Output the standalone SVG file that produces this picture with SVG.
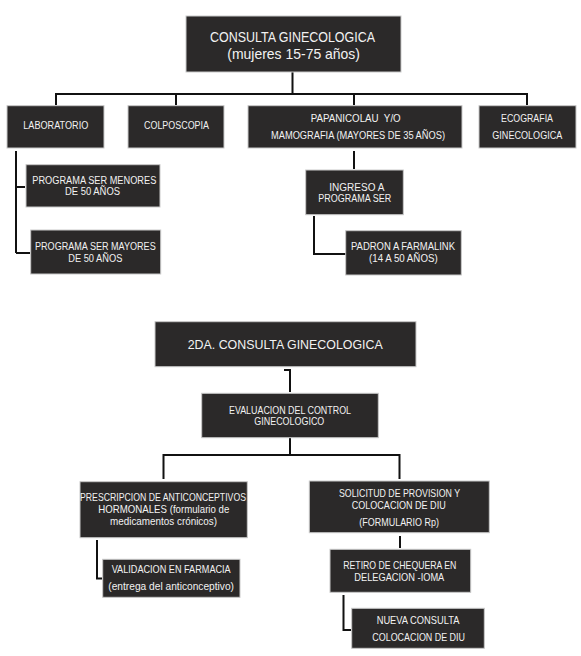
<svg xmlns="http://www.w3.org/2000/svg" width="581" height="656" viewBox="0 0 581 656">
<style>
.box{fill:#2b2929;stroke:#c9c9c9;stroke-width:1}
text{font-family:"Liberation Sans",Arial,sans-serif;fill:#f2f2f2;font-size:10px}
.big{font-size:15px}
.mid{font-size:13.5px}
.sm2{font-size:10.5px}
.ln{fill:none;stroke:#111;stroke-width:2}
</style>
<rect width="581" height="656" fill="#ffffff"/>
<g id="connectors">
<path class="ln" d="M292.5,72 V94 M56,94 H527 M56,93 V105 M176,93 V105 M354,93 V105 M527,93 V105"/>
<path class="ln" d="M16,151 V253 M16,187 H25 M16,253 H30"/>
<path class="ln" d="M354,151 V169"/>
<path class="ln" d="M314,216 V254 H346"/>
<path class="ln" d="M284,370 H290 V392"/>
<path class="ln" d="M290,438 V455 M163.5,455 H399.5 M163.5,454 V479 M399.5,454 V479"/>
<path class="ln" d="M97,540 V578.5 H102"/>
<path class="ln" d="M400,536 V548"/>
<path class="ln" d="M343.5,595 V630 H351"/>
</g>
<g id="consulta">
<rect class="box" x="186" y="16" width="215" height="56"/>
<text class="big" x="210" y="41.7" textLength="165" lengthAdjust="spacingAndGlyphs">CONSULTA GINECOLOGICA</text>
<text class="big" x="227.3" y="58.8" textLength="132.7" lengthAdjust="spacingAndGlyphs">(mujeres 15-75 años)</text>
</g>
<g id="laboratorio">
<rect class="box" x="7" y="105.7" width="97" height="42.3"/>
<text x="23.3" y="129.3" textLength="65" lengthAdjust="spacingAndGlyphs">LABORATORIO</text>
</g>
<g id="colposcopia">
<rect class="box" x="128" y="105.7" width="96" height="42.3"/>
<text x="144" y="129.3" textLength="65" lengthAdjust="spacingAndGlyphs">COLPOSCOPIA</text>
</g>
<g id="papanicolau">
<rect class="box" x="248" y="105.7" width="214" height="42.3"/>
<text x="310.7" y="122.3" textLength="90" lengthAdjust="spacingAndGlyphs" xml:space="preserve">PAPANICOLAU  Y/O</text>
<text x="271" y="139.3" textLength="174" lengthAdjust="spacingAndGlyphs">MAMOGRAFIA (MAYORES DE 35 AÑOS)</text>
</g>
<g id="ecografia">
<rect class="box" x="479" y="105.7" width="97" height="42.3"/>
<text x="501" y="122.3" textLength="52" lengthAdjust="spacingAndGlyphs">ECOGRAFIA</text>
<text x="492.3" y="139.3" textLength="70" lengthAdjust="spacingAndGlyphs">GINECOLOGICA</text>
</g>
<g id="ser-menores">
<rect class="box" x="26" y="164.7" width="134" height="42.3"/>
<text x="32.3" y="184.3" textLength="124" lengthAdjust="spacingAndGlyphs">PROGRAMA SER MENORES</text>
<text x="65" y="195.3" textLength="55" lengthAdjust="spacingAndGlyphs">DE 50 AÑOS</text>
</g>
<g id="ser-mayores">
<rect class="box" x="30.7" y="230" width="130" height="44"/>
<text x="35" y="250" textLength="120.7" lengthAdjust="spacingAndGlyphs">PROGRAMA SER MAYORES</text>
<text x="68.3" y="261.5" textLength="54" lengthAdjust="spacingAndGlyphs">DE 50 AÑOS</text>
</g>
<g id="ingreso">
<rect class="box" x="305.7" y="170" width="97.6" height="44.7"/>
<text x="329.3" y="191" textLength="55" lengthAdjust="spacingAndGlyphs">INGRESO A</text>
<text x="318.3" y="202" textLength="73" lengthAdjust="spacingAndGlyphs">PROGRAMA SER</text>
</g>
<g id="padron">
<rect class="box" x="345.7" y="230.7" width="115.6" height="44.3"/>
<text x="351" y="250.3" textLength="104" lengthAdjust="spacingAndGlyphs">PADRON A FARMALINK</text>
<text x="369" y="261.5" textLength="68.7" lengthAdjust="spacingAndGlyphs">(14 A 50 AÑOS)</text>
</g>
<g id="segunda-consulta">
<rect class="box" x="155" y="321.7" width="261" height="45"/>
<text class="mid" x="187.7" y="349" textLength="195" lengthAdjust="spacingAndGlyphs">2DA. CONSULTA GINECOLOGICA</text>
</g>
<g id="evaluacion">
<rect class="box" x="201.7" y="393.3" width="176.6" height="44.4"/>
<text x="229" y="413.7" textLength="122" lengthAdjust="spacingAndGlyphs">EVALUACION DEL CONTROL</text>
<text x="254.3" y="425.3" textLength="70" lengthAdjust="spacingAndGlyphs">GINECOLOGICO</text>
</g>
<g id="prescripcion">
<rect class="box" x="80" y="481.7" width="167.3" height="56"/>
<text class="sm2" x="80" y="500.7" textLength="166" lengthAdjust="spacingAndGlyphs">PRESCRIPCION DE ANTICONCEPTIVOS</text>
<text class="sm2" x="98.3" y="513.3" textLength="131" lengthAdjust="spacingAndGlyphs">HORMONALES (formulario de</text>
<text class="sm2" x="110" y="525" textLength="107" lengthAdjust="spacingAndGlyphs">medicamentos crónicos)</text>
</g>
<g id="validacion">
<rect class="box" x="102.7" y="559.3" width="137.3" height="38"/>
<text class="sm2" x="111.7" y="573.3" textLength="119" lengthAdjust="spacingAndGlyphs">VALIDACION EN FARMACIA</text>
<text class="sm2" x="108.3" y="590" textLength="125.7" lengthAdjust="spacingAndGlyphs">(entrega del anticonceptivo)</text>
</g>
<g id="solicitud">
<rect class="box" x="309.3" y="481" width="180" height="51.7"/>
<text class="sm2" x="339" y="496.7" textLength="121" lengthAdjust="spacingAndGlyphs">SOLICITUD DE PROVISION Y</text>
<text class="sm2" x="351.7" y="508.7" textLength="94" lengthAdjust="spacingAndGlyphs">COLOCACION DE DIU</text>
<text class="sm2" x="359.3" y="525.5" textLength="79.7" lengthAdjust="spacingAndGlyphs">(FORMULARIO Rp)</text>
</g>
<g id="retiro">
<rect class="box" x="330" y="549.3" width="140.7" height="43"/>
<text class="sm2" x="343.3" y="568.7" textLength="113" lengthAdjust="spacingAndGlyphs">RETIRO DE CHEQUERA EN</text>
<text class="sm2" x="354.3" y="580.7" textLength="90" lengthAdjust="spacingAndGlyphs">DELEGACION -IOMA</text>
</g>
<g id="nueva-consulta">
<rect class="box" x="351.7" y="608.3" width="132.6" height="40"/>
<text class="sm2" x="376.7" y="624" textLength="82.7" lengthAdjust="spacingAndGlyphs">NUEVA CONSULTA</text>
<text class="sm2" x="372.3" y="640.5" textLength="92.7" lengthAdjust="spacingAndGlyphs">COLOCACION DE DIU</text>
</g>
</svg>
